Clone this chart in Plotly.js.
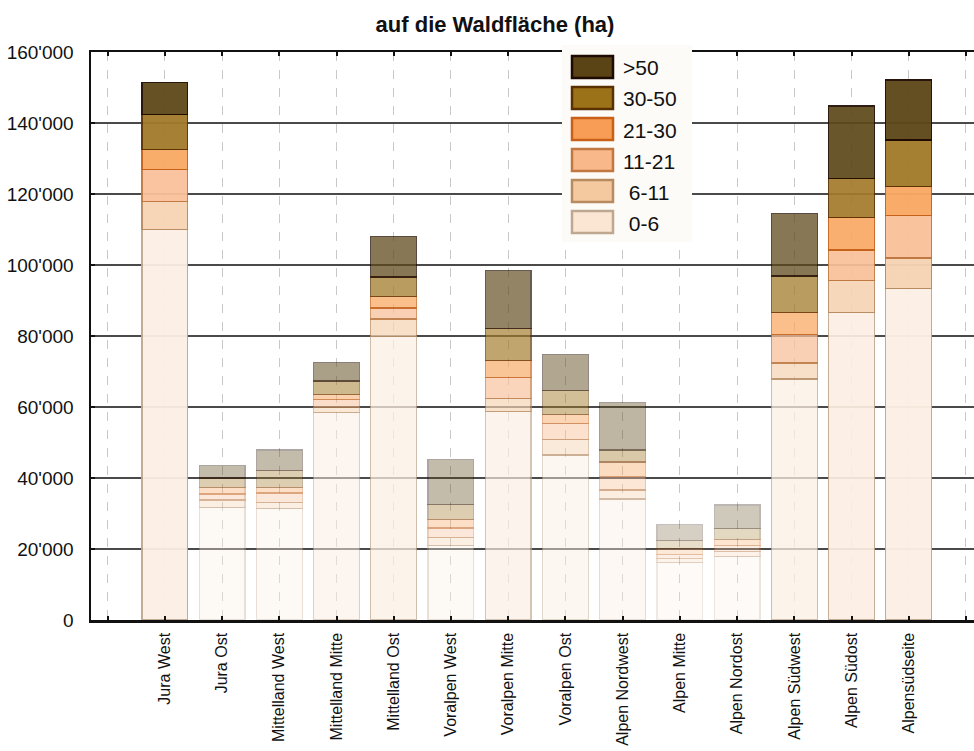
<!DOCTYPE html>
<html>
<head>
<meta charset="utf-8">
<script src="https://cdn.plot.ly/plotly-3.0.1.min.js"></script>
<style>html,body{margin:0;padding:0;background:#fff;}#chart{width:974px;height:751px;}</style>
</head>
<body>
<div id="chart"></div>
<script>
const categories = ['Jura West','Jura Ost','Mittelland West','Mittelland Mitte','Mittelland Ost','Voralpen West','Voralpen Mitte','Voralpen Ost','Alpen Nordwest','Alpen Mitte','Alpen Nordost','Alpen Südwest','Alpen Südost','Alpensüdseite'];
const seriesNames = ['0-6','6-11','11-21','21-30','30-50','>50'];
const s0_6   = [109900,31700,31300,58400,79800,21100,58800,46500,34100,16100,18000,67900,86600,93300];
const s6_11  = [7900,2100,1900,1500,5000,2100,3700,4400,2500,1200,1200,4500,9000,8700];
const s11_21 = [9200,1700,2600,2300,3100,2700,5900,4500,3900,1200,1900,8100,8600,12000];
const s21_30 = [5600,1900,1600,1400,3200,2500,4600,2600,4000,1600,1600,6100,9100,8200];
const s30_50 = [9700,2600,4800,3700,5500,4100,9200,6600,3400,2300,3000,10300,11100,13000];
const s50    = [9100,3500,5700,5200,11400,12700,16200,10300,13400,4500,6700,17700,20400,16900];
const yTicks = [0,20000,40000,60000,80000,100000,120000,140000,160000];

const seriesValues = [s0_6, s6_11, s11_21, s21_30, s30_50, s50];
const legendFills = ['#fbe5d3','#f5c9a0','#f8b88a','#f79d55','#9c7218','#5a4315'];
const barFills    = ['#fcefe4','#f6d4b4','#f9c19a','#f9a964','#a27a2a','#5e481a'];
const borders     = ['#c0a890','#b88a60','#c07840','#c86018','#5a3000','#1e0a00'];
const barOpacity  = [0.95,0.36,0.36,0.52,0.74,0.36,0.67,0.48,0.40,0.25,0.29,0.74,0.92,0.96];

const FONT = 'Liberation Sans, Arial, sans-serif';
const xs = categories.map((c, i) => i);

const traces = seriesValues.map((vals, k) => ({
  type: 'bar',
  name: seriesNames[k],
  x: xs,
  y: vals,
  width: 0.8,
  marker: {color: barFills[k], opacity: barOpacity, line: {color: borders[k], width: 1.2}},
  showlegend: false,
  hoverinfo: 'skip'
}));

// plot area in pixels
const L = 91, R = 974, T = 52, B = 620;
const px = v => (v - L) / (R - L);
const py = v => (B - v) / (B - T);

const shapes = [];
const annotations = [];
shapes.push({type:'rect', xref:'paper', yref:'paper', x0:px(562), x1:px(692), y0:py(242), y1:py(45),
  fillcolor:'#fdfbf8', line:{width:0}, layer:'above'});
for (let j = 0; j < seriesNames.length; j++) {
  const k = seriesNames.length - 1 - j;
  const top = 56 + j * 31;
  shapes.push({type:'rect', xref:'paper', yref:'paper', x0:px(572), x1:px(613), y0:py(top+22), y1:py(top),
    fillcolor: legendFills[k], line:{color: borders[k], width: 2.5}, layer:'above'});
  annotations.push({xref:'paper', yref:'paper', x:px(621), y:py(top+12), xanchor:'left', yanchor:'middle',
    text: (seriesNames[k].length < 5 && seriesNames[k][0] !== '>' ? ' ' : '') + seriesNames[k], showarrow:false,
    font:{family:FONT, size:21, color:'#111'}});
}

const tickvals = [-1].concat(xs, [categories.length]);
const ticktext = [''].concat(categories, ['']);

const layout = {
  width: 974, height: 751,
  margin: {l: L, r: 974 - R, t: T, b: 751 - B, pad: 0},
  paper_bgcolor: '#ffffff', plot_bgcolor: '#ffffff',
  barmode: 'stack',
  separators: ".'",
  font: {family: FONT, color: '#111'},
  title: {text: '<b>auf die Waldfläche (ha)</b>', font: {family: FONT, size: 22, color: '#111'},
          xref: 'paper', x: px(495), xanchor: 'center', yref: 'container', y: 1 - 24/751, yanchor: 'middle'},
  xaxis: {
    range: [-1.29, 14.14], tickmode: 'array', tickvals: tickvals, ticktext: ticktext,
    tickangle: -90, tickfont: {family: FONT, size: 16, color: '#111'},
    showgrid: true, gridcolor: '#c8c8c8', griddash: 'dash', gridwidth: 1,
    showline: true, linecolor: '#111', linewidth: 2.5, mirror: 'ticks',
    ticks: 'inside', ticklen: 4, tickwidth: 2, tickcolor: '#111',
    ticklabelstandoff: 4,
    zeroline: false, fixedrange: true
  },
  yaxis: {
    range: [0, 160000], tickmode: 'array', tickvals: yTicks, tickformat: ',d',
    tickfont: {family: FONT, size: 19, color: '#111'},
    showgrid: true, gridcolor: '#4a4a4a', gridwidth: 1.5,
    showline: true, linecolor: '#111', linewidth: 2.5,
    ticks: 'inside', ticklen: 4, tickwidth: 1.5, tickcolor: '#111',
    ticklabelstandoff: 11,
    zeroline: false, fixedrange: true
  },
  shapes: shapes,
  annotations: annotations
};

Plotly.newPlot('chart', traces, layout, {displayModeBar: false, staticPlot: true});
</script>
</body>
</html>
